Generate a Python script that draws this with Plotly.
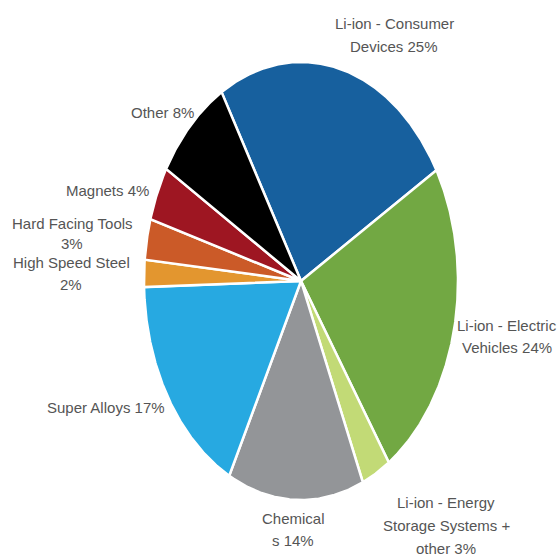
import numpy as np
import plotly.graph_objects as go

# ---- data ----
categories = ["Li-ion - Consumer Devices", "Li-ion - Electric Vehicles",
              "Li-ion - Energy Storage Systems + other", "Chemicals",
              "Super Alloys", "High Speed Steel", "Hard Facing Tools",
              "Magnets", "Other"]
shares = [25, 24, 3, 14, 17, 2, 3, 4, 8]
label_stems = ["Li-ion - Consumer|Devices", "Li-ion - Electric|Vehicles",
               "Li-ion - Energy|Storage Systems +|other", "Chemical|s",
               "Super Alloys", "High Speed Steel|", "Hard Facing Tools|",
               "Magnets", "Other"]

# ---- styles / layout ----
colors = ["#17609E", "#72A843", "#C2DA76", "#939598", "#27A9E1",
          "#E3962F", "#CB5A28", "#9E1622", "#000000"]
label_pos = [(394, 35), (507, 336), (446, 525), (293, 529), (106, 407),
             (71, 273), (72, 233), (107, 190), (162, 112)]
line_gap = [23, 22, 23, 22, 0, 22, 20, 0, 0]
W, H = 560, 556
cx, cy, rx, ry = 301, 281, 157, 219
start_deg = -30.4

fig = go.Figure()
total = float(sum(shares))
a = np.radians(start_deg)
for cat, v, col in zip(categories, shares, colors):
    span = 2 * np.pi * v / total
    th = np.linspace(a, a + span, max(8, int(v * 8)))
    xs = np.concatenate([[cx], cx + rx * np.sin(th), [cx]])
    ys = np.concatenate([[cy], cy - ry * np.cos(th), [cy]])
    fig.add_trace(go.Scatter(x=xs, y=ys, mode="lines", fill="toself",
                             fillcolor=col, line=dict(color="white", width=2.5),
                             name=cat, hoverinfo="name"))
    a += span

for stem, v, (lx, ly), gap in zip(label_stems, shares, label_pos, line_gap):
    sep = "" if stem.endswith("|") else " "
    lines = f"{stem}{sep}{v}%".split("|")
    n = len(lines)
    for i, ln in enumerate(lines):
        fig.add_annotation(x=lx, y=ly + (i - (n - 1) / 2) * gap, text=ln,
                           showarrow=False, xanchor="center", yanchor="middle")

fig.update_layout(
    width=W, height=H, margin=dict(l=0, r=0, t=0, b=0),
    paper_bgcolor="white", plot_bgcolor="white", showlegend=False,
    font=dict(family="Liberation Sans, Arial, sans-serif",
              size=15, color="#555555"),
    xaxis=dict(range=[0, W], visible=False, fixedrange=True),
    yaxis=dict(range=[H, 0], visible=False, fixedrange=True),
)
fig.write_html("out.html")
